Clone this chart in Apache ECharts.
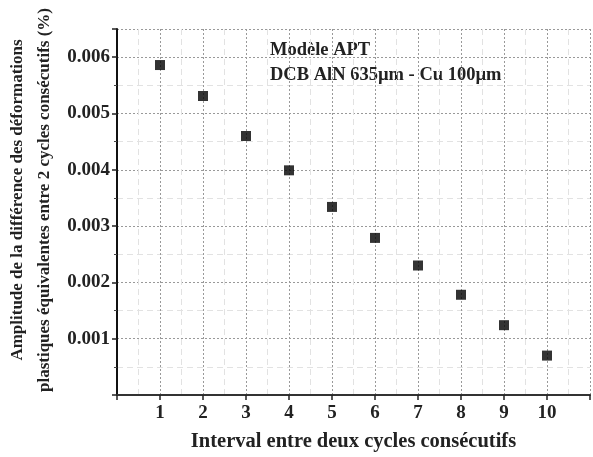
<!DOCTYPE html>
<html>
<head>
<meta charset="utf-8">
<script src="https://cdn.jsdelivr.net/npm/echarts@6/dist/echarts.min.js"></script>
<style>
  html, body { margin: 0; padding: 0; background: #fff; }
  #chart { width: 593px; height: 457px; }
</style>
</head>
<body>
<div id="chart"></div>
<script>
// Intervalle entre deux cycles et amplitude correspondante (%)
const intervalles = [1, 2, 3, 4, 5, 6, 7, 8, 9, 10];
const amplitudes = [0.00586, 0.00531, 0.00460, 0.00399, 0.00334, 0.00279, 0.00230, 0.00178, 0.00124, 0.00070];
const yTicks = [0.001, 0.002, 0.003, 0.004, 0.005, 0.006];

const police = '"Liberation Serif", "DejaVu Serif", serif';

const chart = echarts.init(document.getElementById('chart'));

const option = {
  backgroundColor: '#fff',
  animation: false,
  grid: { left: 117, right: -4, top: 29, bottom: 60 },
  xAxis: {
    type: 'value',
    min: 0,
    max: 11,
    interval: 1,
    name: 'Interval entre deux cycles consécutifs',
    nameLocation: 'middle',
    nameGap: 36,
    nameTextStyle: { fontFamily: police, fontWeight: 'bold', fontSize: 20.5, color: '#222' },
    axisLine: { lineStyle: { color: '#333', width: 2 } },
    axisTick: { length: 5, lineStyle: { color: '#222', width: 1.5 } },
    axisLabel: {
      fontFamily: police, fontWeight: 'bold', fontSize: 19, color: '#222', margin: 9,
      formatter: v => (v >= 1 && v <= 10 ? String(v) : '')
    },
    splitLine: { show: true, lineStyle: { color: '#999', type: [2, 2], width: 1 } },
    minorTick: { show: false, splitNumber: 2 },
    minorSplitLine: { show: true, lineStyle: { color: '#e2e2e2', type: [6, 4], width: 1 } }
  },
  yAxis: {
    type: 'value',
    min: 0,
    max: 0.0065,
    interval: 0.001,
    axisLine: { show: true, lineStyle: { color: '#111', width: 2 } },
    axisTick: { length: 5, lineStyle: { color: '#222', width: 1.5 } },
    minorTick: { show: true, splitNumber: 2, length: 3, lineStyle: { color: '#444' } },
    axisLabel: {
      fontFamily: police, fontWeight: 'bold', fontSize: 19, color: '#222', margin: 7,
      formatter: v => (yTicks.some(t => Math.abs(t - v) < 1e-7) ? v.toFixed(3) : '')
    },
    splitLine: { show: true, lineStyle: { color: '#999', type: [2, 2], width: 1 } },
    minorSplitLine: { show: true, lineStyle: { color: '#e2e2e2', type: [6, 4], width: 1 } }
  },
  graphic: [
    {
      type: 'text',
      x: 31,
      y: 200,
      rotation: Math.PI / 2,
      style: {
        text: 'Amplitude de la différence des déformations\nplastiques équivalentes entre 2 cycles consécutifs (%)',
        fontFamily: police,
        fontWeight: 'bold',
        fontSize: 17,
        lineHeight: 27,
        fill: '#222',
        align: 'center',
        verticalAlign: 'middle'
      }
    },
    {
      type: 'text',
      left: 270,
      top: 38,
      style: {
        text: 'Modèle APT\nDCB AlN 635µm - Cu 100µm',
        fontFamily: police,
        fontWeight: 'bold',
        fontSize: 18.5,
        lineHeight: 25,
        fill: '#222'
      }
    }
  ],
  series: [{
    type: 'scatter',
    symbol: 'rect',
    symbolSize: 10,
    itemStyle: { color: '#000' },
    data: intervalles.map((x, i) => [x, amplitudes[i]])
  }]
};

chart.setOption(option);
</script>
</body>
</html>
